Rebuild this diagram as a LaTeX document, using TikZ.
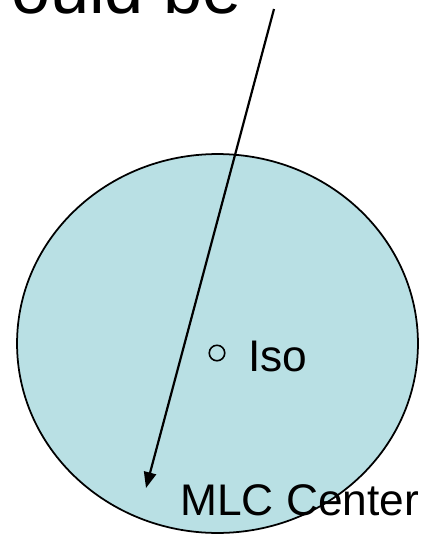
\documentclass[tikz,border=0pt]{standalone}
\usepackage{fontspec}
\setmainfont{Liberation Sans}
\usepackage{xcolor}
\usetikzlibrary{arrows.meta,shapes.geometric}

\definecolor{fieldblue}{RGB}{185,224,228}

\begin{document}
\begin{tikzpicture}[
    x=0.02cm, y=-0.02cm,
    field/.style={ellipse, draw, fill=fieldblue, line width=1pt, minimum width=8.02cm, minimum height=7.58cm, inner sep=0pt},
    label/.style={inner sep=0pt, font=\fontsize{25.2}{30}\selectfont},
    bigtext/.style={inner sep=0pt, font=\fontsize{40}{46}\selectfont},
    isomark/.style={circle, draw, line width=0.9pt, minimum size=0.31cm, inner sep=0pt},
    arrow/.style={-{Triangle[length=9pt, width=7pt]}, line width=1.25pt}
]
\useasboundingbox (0,0) rectangle (425,535);
\clip (0,0) rectangle (425,535);
\node[bigtext, anchor=base east] (caption) at (242,13) {ould be};
\node[field] (field) at (217.5,343.5) {};
\node[isomark] (iso) at (217,353) {};
\node[label, anchor=base west] (isolabel) at (248,371) {Iso};
\node[label, anchor=base west] (mlc) at (180,515) {MLC Center};
\coordinate (start) at (274,9);
\coordinate (tip) at (146,488);
\draw[arrow] (start) -- (tip);
\end{tikzpicture}
\end{document}
